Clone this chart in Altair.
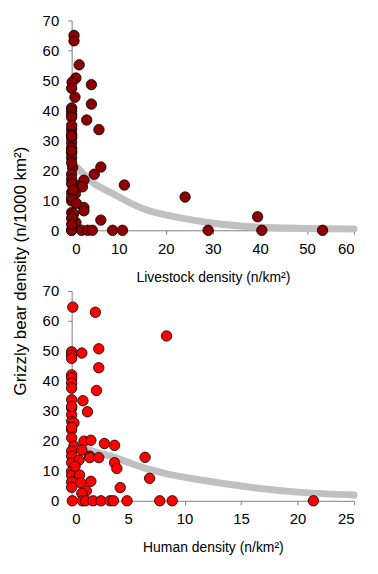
import altair as alt
import pandas as pd

# ---- Top panel: livestock density vs grizzly bear density ----
live_x = [0.5, 0.5, 1.6, 0.9, 0.1, 4.2, 0.0, 0.7, 4.2, 0.0, 0.0, 0.0, 0.0, 3.2, 5.8,
          0.0, 0.0, 0.0, 0.0, 0.0, 0.0, 0.2, 6.2, 0.0, 4.8, 2.6, 11.2, 1.2, 2.3,
          0.0, 0.8, 0.0, 2.6, 2.6, 0.0, 0.4, 6.2, 0.9,
          0.0, 0.0, 2.1, 3.4, 4.4, 8.7, 10.8, 0.0, 0.0, 0.0, 0.0, 0.0,
          24.1, 39.5, 29.0, 40.4, 53.3, 0.0, 0.0, 0.0, 0.3, 1.0, 0.0, 0.0]
live_y = [65.0, 63.2, 55.2, 50.8, 49.4, 48.6, 47.4, 44.4, 42.1, 40.8, 39.7, 38.6, 37.7, 36.8, 33.6,
          33.6, 30.8, 29.2, 27.5, 25.8, 24.2, 20.9, 21.1, 18.7, 18.7, 16.7, 15.1, 14.8, 14.5,
          12.6, 12.2, 9.8, 7.6, 6.5, 5.9, 5.5, 3.4, 2.6,
          0.0, 0.0, 0.0, 0.0, 0.0, 0.0, 0.0, 32.0, 22.5, 17.0, 15.5, 11.0,
          11.1, 4.5, 0.0, 0.0, 0.0, 26.5, 31.5, 35.0, 13.5, 9.0, 4.0, 2.0]

live_curve_x = [1.2, 4.0, 8.3, 15.5, 22.6, 29.0, 39.0, 50.0, 60.0]
live_curve_y = [21.0, 16.5, 12.6, 7.0, 4.3, 2.6, 1.1, 0.6, 0.4]

# ---- Bottom panel: human density vs grizzly bear density ----
hum_x = [0.1, 2.1, 8.4, 0.0, 0.0, 0.0, 0.9, 2.4, 2.4, 0.0, 0.0, 0.0, 0.0, 2.2,
         0.0, 0.0, 0.0, 0.0, 1.0, 1.4, 0.2, 0.0, 0.0, 0.2, 0.0, 0.0, 0.0,
         1.1, 0.9, 1.7, 2.9, 3.8, 1.6, 1.6, 2.4, 0.65, 3.8, 4.0, 6.5, 6.9,
         0.0, 0.0, 0.7, 1.7, 0.0, 0.8, 4.3, 1.3, 0.9,
         0.06, 0.95, 1.24, 1.9, 2.6, 3.4, 3.7, 4.9, 7.8, 8.9, 21.4,
         0.0, 0.0, 0.3, 0.0]
hum_y = [64.6, 62.9, 55.0, 49.7, 48.6, 47.5, 49.3, 50.7, 44.4, 42.0, 41.0, 39.3, 37.6, 36.8,
         33.7, 30.9, 28.7, 26.5, 33.4, 29.7, 26.0, 23.7, 21.0, 18.2, 16.6, 14.9, 12.7,
         19.9, 16.9, 20.2, 19.1, 18.5, 14.9, 14.4, 14.4, 13.6, 12.7, 10.8, 14.5, 7.5,
         9.9, 8.5, 8.6, 6.5, 6.3, 6.0, 4.4, 3.3, 2.5,
         0.0, 0.0, 0.0, 0.0, 0.0, 0.0, 0.0, 0.0, 0.0, 0.0, 0.0,
         31.5, 24.5, 11.5, 4.5]

hum_curve_x = [0.35, 1.5, 3.45, 6.4, 9.3, 12.0, 16.1, 20.3, 25.0]
hum_curve_y = [19.0, 17.0, 14.9, 11.0, 8.3, 6.6, 4.4, 2.8, 1.9]

y_ticks = [0, 10, 20, 30, 40, 50, 60, 70]
live_ticks = [0, 10, 20, 30, 40, 50, 60]
hum_ticks = [0, 5, 10, 15, 20, 25]

FONT = "Liberation Sans"
W, H = 284, 211


def panel(px, py, cx, cy, xmax, xticks, xtitle, fill):
    pts = pd.DataFrame({"x": px, "y": py})
    crv = pd.DataFrame({"x": cx, "y": cy})
    xsc = alt.Scale(domain=[0, xmax], nice=False, zero=True)
    ysc = alt.Scale(domain=[0, 70], nice=False)
    xax = alt.Axis(values=xticks, title=xtitle, grid=False,
                   domainColor="#808080", tickColor="#808080", tickSize=4,
                   labelFontSize=15, titleFontSize=14, labelFont=FONT, titleFont=FONT,
                   labelColor="black", titleColor="black", titleFontWeight="normal",
                   labelPadding=7, titlePadding=14, labelOverlap=False)
    yax = alt.Axis(values=y_ticks, title=None, grid=False,
                   domainColor="#808080", tickColor="#808080", tickSize=4,
                   labelFontSize=15, labelFont=FONT, labelColor="black", labelPadding=9,
                   labelOverlap=False)
    enc = dict(x=alt.X("x:Q", scale=xsc, axis=xax), y=alt.Y("y:Q", scale=ysc, axis=yax))
    line = alt.Chart(crv).mark_line(color="#c0c0c0", strokeWidth=7, strokeCap="round",
                                    interpolate="monotone").encode(**enc)
    dots = alt.Chart(pts).mark_point(filled=True, size=110, fill=fill, stroke="black",
                                     strokeWidth=0.8, opacity=1, shape="circle").encode(**enc)
    return alt.layer(line, dots).properties(width=W, height=H)


top = panel(live_x, live_y, live_curve_x, live_curve_y, 60, live_ticks,
            "Livestock density (n/km²)", "#8b0000")
bottom = panel(hum_x, hum_y, hum_curve_x, hum_curve_y, 25, hum_ticks,
               "Human density (n/km²)", "#ff0000")

chart = alt.vconcat(top, bottom, spacing=0).properties(
    title=alt.TitleParams("Grizzly bear density (n/1000 km²)", orient="left",
                          anchor="middle", fontSize=17, font=FONT,
                          fontWeight="normal", color="black", offset=12, dx=13),
    padding={"left": 4, "top": 4, "right": 2, "bottom": 2},
).configure_view(stroke=None)

chart.save("out.html", embed_options={"renderer": "svg", "actions": False})
